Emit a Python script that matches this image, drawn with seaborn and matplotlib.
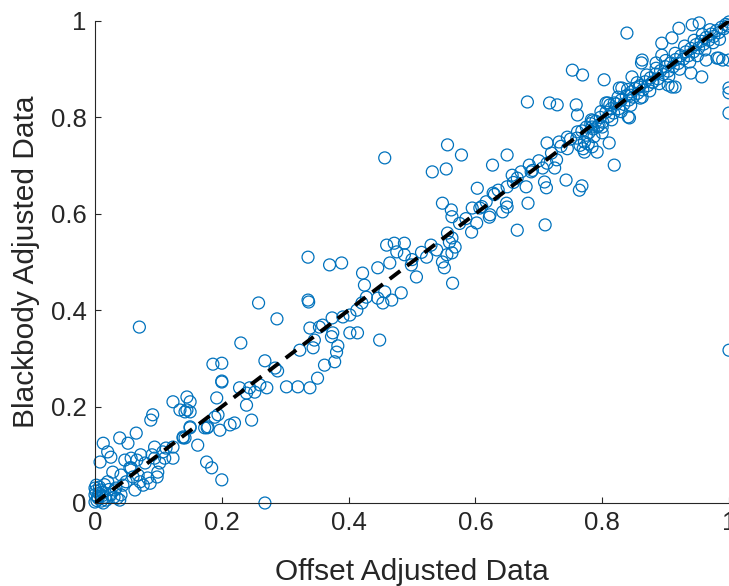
import matplotlib
matplotlib.use('Agg')
import matplotlib.pyplot as plt
import seaborn as sns
import pandas as pd

# 数据：散点 (Offset, Blackbody)
near_origin = [
    (0.091, 0.183), (0.088, 0.172), (0.142, 0.189), (0.150, 0.189), (0.013, 0.124),
    (0.039, 0.135), (0.065, 0.145), (0.052, 0.124), (0.020, 0.106), (0.025, 0.095),
    (0.008, 0.085), (0.047, 0.089), (0.057, 0.093), (0.072, 0.100), (0.079, 0.083),
    (0.094, 0.093), (0.107, 0.106), (0.112, 0.114), (0.123, 0.093), (0.142, 0.135),
    (0.150, 0.158), (0.057, 0.073), (0.028, 0.064), (0.041, 0.058), (0.068, 0.058),
    (0.083, 0.052), (0.099, 0.064), (0.049, 0.044), (0.020, 0.044), (0.033, 0.031),
    (0.009, 0.027), (0.000, 0.031), (0.000, 0.017), (0.005, 0.010), (0.016, 0.012),
    (0.025, 0.017), (0.039, 0.006), (0.041, 0.017), (0.000, 0.002), (0.013, 0.000),
    (0.002, 0.037), (0.076, 0.037), (0.063, 0.027), (0.087, 0.041), (0.003, 0.005),
    (0.006, 0.020), (0.010, 0.004), (0.004, 0.013), (0.012, 0.022), (0.018, 0.006),
    (0.007, 0.033), (0.022, 0.028), (0.015, 0.038), (0.030, 0.012), (0.001, 0.025),
    (0.011, 0.015), (0.070, 0.365),
]
low_range = [
    (0.123, 0.210), (0.145, 0.220), (0.150, 0.210), (0.145, 0.193), (0.134, 0.193),
    (0.200, 0.251), (0.228, 0.239), (0.244, 0.239), (0.239, 0.203), (0.247, 0.172),
    (0.220, 0.166), (0.213, 0.162), (0.197, 0.151), (0.189, 0.178), (0.173, 0.156),
    (0.178, 0.158), (0.139, 0.135), (0.123, 0.116), (0.110, 0.093), (0.094, 0.116),
    (0.102, 0.083), (0.090, 0.100), (0.066, 0.089), (0.055, 0.073), (0.060, 0.054),
    (0.071, 0.044), (0.044, 0.037), (0.031, 0.027), (0.035, 0.010), (0.176, 0.085),
    (0.184, 0.073), (0.200, 0.048), (0.162, 0.120), (0.098, 0.054), (0.268, 0.000),
    (0.258, 0.415), (0.337, 0.417), (0.287, 0.382), (0.230, 0.332), (0.186, 0.288),
    (0.200, 0.290), (0.200, 0.253), (0.268, 0.295), (0.284, 0.280), (0.288, 0.274),
    (0.323, 0.317), (0.339, 0.363), (0.354, 0.365), (0.346, 0.338), (0.344, 0.322),
    (0.373, 0.345), (0.381, 0.313), (0.362, 0.286), (0.378, 0.293), (0.351, 0.259),
    (0.339, 0.239), (0.320, 0.241), (0.302, 0.241), (0.271, 0.239), (0.260, 0.245),
    (0.252, 0.230), (0.239, 0.228), (0.194, 0.183), (0.177, 0.156), (0.150, 0.156),
    (0.139, 0.137), (0.192, 0.218),
]
mid_range = [
    (0.548, 0.622), (0.562, 0.608), (0.563, 0.594), (0.595, 0.612), (0.602, 0.581),
    (0.594, 0.562), (0.370, 0.494), (0.389, 0.498), (0.422, 0.477), (0.446, 0.488),
    (0.465, 0.498), (0.460, 0.535), (0.472, 0.539), (0.488, 0.539), (0.476, 0.521),
    (0.488, 0.515), (0.499, 0.494), (0.507, 0.469), (0.523, 0.510), (0.539, 0.525),
    (0.548, 0.500), (0.551, 0.488), (0.556, 0.560), (0.559, 0.541), (0.563, 0.550),
    (0.568, 0.531), (0.563, 0.519), (0.555, 0.515), (0.564, 0.456), (0.425, 0.452),
    (0.457, 0.438), (0.483, 0.436), (0.468, 0.421), (0.454, 0.415), (0.446, 0.425),
    (0.428, 0.427), (0.421, 0.415), (0.413, 0.400), (0.402, 0.390), (0.391, 0.386),
    (0.374, 0.384), (0.359, 0.369), (0.375, 0.353), (0.402, 0.353), (0.414, 0.353),
    (0.449, 0.338), (0.383, 0.326), (0.457, 0.716), (0.556, 0.743), (0.578, 0.722),
    (0.532, 0.687), (0.554, 0.693), (0.650, 0.722), (0.627, 0.701), (0.603, 0.653),
    (0.666, 0.566), (0.336, 0.510), (0.336, 0.421), (0.617, 0.625), (0.649, 0.622),
    (0.622, 0.593), (0.680, 0.656), (0.658, 0.680), (0.672, 0.687), (0.500, 0.505),
    (0.515, 0.520), (0.530, 0.535), (0.575, 0.580), (0.585, 0.590), (0.610, 0.615),
    (0.630, 0.640), (0.660, 0.665), (0.690, 0.690), (0.700, 0.710), (0.735, 0.740),
    (0.745, 0.735), (0.750, 0.755),
]
upper_range = [
    (0.682, 0.832), (0.717, 0.830), (0.729, 0.826), (0.759, 0.826), (0.806, 0.830),
    (0.819, 0.830), (0.761, 0.805), (0.783, 0.795), (0.784, 0.780), (0.795, 0.784),
    (0.800, 0.768), (0.775, 0.763), (0.772, 0.749), (0.784, 0.739), (0.772, 0.728),
    (0.792, 0.728), (0.811, 0.747), (0.819, 0.701), (0.761, 0.770), (0.713, 0.747),
    (0.745, 0.759), (0.732, 0.749), (0.720, 0.726), (0.728, 0.712), (0.713, 0.705),
    (0.706, 0.695), (0.725, 0.695), (0.685, 0.701), (0.688, 0.687), (0.666, 0.674),
    (0.650, 0.656), (0.636, 0.649), (0.628, 0.643), (0.709, 0.666), (0.712, 0.654),
    (0.743, 0.670), (0.764, 0.649), (0.768, 0.658), (0.683, 0.622), (0.650, 0.614),
    (0.643, 0.604), (0.623, 0.598), (0.607, 0.612), (0.710, 0.577),
    (0.839, 0.975), (0.921, 0.985), (0.942, 0.992), (0.953, 0.996), (0.894, 0.954),
    (0.910, 0.965), (0.863, 0.919), (0.862, 0.913), (0.885, 0.913), (0.894, 0.929),
    (0.753, 0.898), (0.769, 0.888), (0.803, 0.878), (0.827, 0.861), (0.847, 0.884),
    (0.858, 0.863), (0.845, 0.846), (0.863, 0.842), (0.879, 0.873), (0.910, 0.863),
    (0.940, 0.892), (0.957, 0.884), (0.964, 0.919), (0.984, 0.923), (0.990, 0.919),
    (0.843, 0.799), (0.785, 0.793), (0.809, 0.830), (0.831, 0.861), (0.904, 0.867),
    (0.915, 0.863), (0.981, 0.923), (0.841, 0.801), (1.000, 0.919), (1.000, 0.861),
    (1.000, 0.851), (1.000, 0.809), (1.000, 0.317),
]
dense_band = [
    (0.760, 0.757), (0.768, 0.772), (0.775, 0.780), (0.779, 0.768), (0.782, 0.787),
    (0.786, 0.776), (0.790, 0.792), (0.793, 0.781), (0.797, 0.800), (0.801, 0.790),
    (0.806, 0.811), (0.810, 0.802), (0.814, 0.818), (0.818, 0.809), (0.822, 0.828),
    (0.826, 0.818), (0.830, 0.836), (0.834, 0.827), (0.838, 0.845), (0.842, 0.836),
    (0.846, 0.853), (0.849, 0.842), (0.852, 0.860), (0.856, 0.850), (0.860, 0.866),
    (0.864, 0.857), (0.868, 0.874), (0.872, 0.866), (0.876, 0.882), (0.880, 0.873),
    (0.884, 0.890), (0.888, 0.880), (0.892, 0.897), (0.896, 0.889), (0.900, 0.905),
    (0.904, 0.896), (0.908, 0.913), (0.912, 0.905), (0.916, 0.920), (0.920, 0.912),
    (0.924, 0.928), (0.928, 0.921), (0.932, 0.936), (0.936, 0.928), (0.940, 0.943),
    (0.944, 0.936), (0.948, 0.951), (0.952, 0.944), (0.956, 0.958), (0.960, 0.952),
    (0.964, 0.966), (0.968, 0.960), (0.972, 0.973), (0.976, 0.968), (0.980, 0.980),
    (0.984, 0.976), (0.988, 0.987), (0.992, 0.984), (0.995, 0.993), (0.998, 0.990),
    (1.000, 0.998), (0.970, 0.982), (0.958, 0.972), (0.945, 0.960), (0.930, 0.948),
    (0.915, 0.933), (0.900, 0.918), (0.885, 0.902), (0.870, 0.888), (0.855, 0.872),
    (0.840, 0.858), (0.825, 0.842), (0.812, 0.826), (0.798, 0.812), (0.985, 0.962),
    (0.975, 0.955), (0.962, 0.940), (0.950, 0.928), (0.938, 0.915), (0.922, 0.900),
    (0.905, 0.885), (0.890, 0.870), (0.875, 0.855), (0.860, 0.840), (0.845, 0.825),
    (0.830, 0.812), (0.815, 0.795), (0.800, 0.780), (0.787, 0.760), (0.778, 0.745),
    (0.770, 0.735), (0.765, 0.742),
]
ref_line = [0, 1]
ticks = [0, 0.2, 0.4, 0.6, 0.8, 1]
tick_labels = ['0', '0.2', '0.4', '0.6', '0.8', '1']

pts = near_origin + low_range + mid_range + upper_range + dense_band
df = pd.DataFrame(pts, columns=['offset', 'blackbody'])

sns.set_style('white')
plt.rcParams['font.family'] = ['Liberation Sans', 'DejaVu Sans']
txt = '#262626'

fig = plt.figure(figsize=(7.29, 5.86), dpi=100)
ax = fig.add_axes([95 / 729, 1 - 503 / 586, 634 / 729, 482 / 586])

sns.scatterplot(data=df, x='offset', y='blackbody', ax=ax, marker='o', s=74,
                color='#0072BD', facecolor='none', edgecolor='#0072BD',
                linewidth=0.9, clip_on=False, zorder=2)
ax.plot(ref_line, ref_line, color='black', linestyle='--', linewidth=2.8,
        dashes=(3.4, 2.2), zorder=3)

ax.set_xlim(0, 1)
ax.set_ylim(0, 1)
ax.set_xticks(ticks)
ax.set_xticklabels(tick_labels)
ax.set_yticks(ticks)
ax.set_yticklabels(tick_labels)
ax.tick_params(bottom=True, left=True, direction='in', length=4.5, width=0.8,
               colors=txt, labelsize=18.5, labelcolor=txt, pad=6)
for side in ['top', 'right']:
    ax.spines[side].set_visible(False)
for side in ['left', 'bottom']:
    ax.spines[side].set_color(txt)
    ax.spines[side].set_linewidth(0.8)

ax.set_xlabel('Offset Adjusted Data', fontsize=21.5, color=txt, labelpad=16)
ax.set_ylabel('Blackbody Adjusted Data', fontsize=21.5, color=txt, labelpad=8)

fig.savefig('out.png', dpi=100)
